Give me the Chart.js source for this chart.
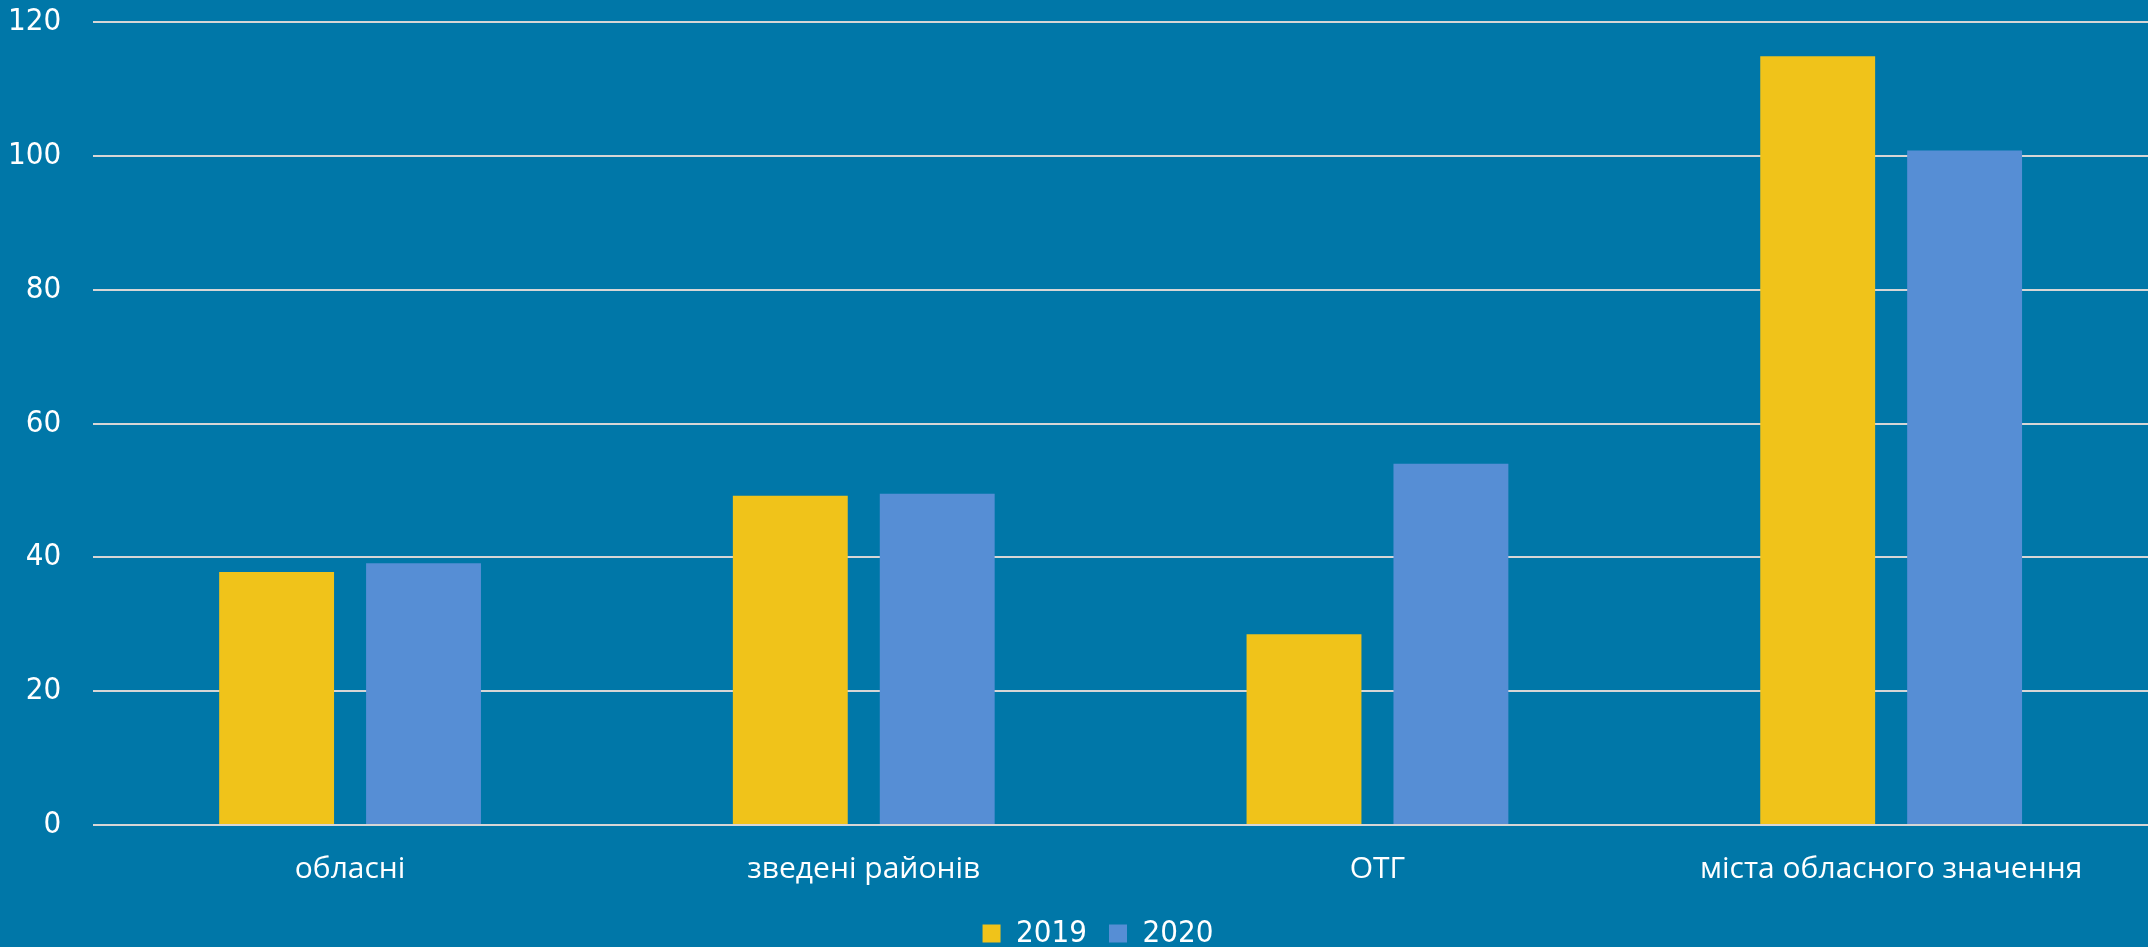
<!DOCTYPE html>
<html lang="uk">
<head>
    <meta charset="UTF-8">
    <title>2019 / 2020</title>
    <script src="https://cdn.jsdelivr.net/npm/chart.js"></script>
    <style>
        html, body { margin: 0; padding: 0; background: #0077A8; }
        #wrap { width: 2148px; height: 947px; }
    </style>
</head>
<body>
<div id="wrap"><canvas id="myChart" width="2148" height="947"></canvas></div>
<script>
    // дані з графіка
    const categories = ['обласні', 'зведені районів', 'ОТГ', 'міста обласного значення'];
    const values2019 = [37.8, 49.2, 28.5, 114.9];
    const values2020 = [39.1, 49.5, 54.0, 100.8];
    const yTicks = [0, 20, 40, 60, 80, 100, 120];

    const digitFont = "'DejaVu Sans Condensed', 'Liberation Sans Narrow', sans-serif";
    const textFont = "'Open Sans', sans-serif";

    // легенда в оригіналі трохи правіше від центру полотна
    const shiftLegend = {
        id: 'shiftLegend',
        afterLayout(chart) {
            chart.legend.left += 36;
            chart.legend.right += 36;
        }
    };

    const ctx = document.getElementById('myChart').getContext('2d');
    new Chart(ctx, {
        type: 'bar',
        data: {
            labels: categories,
            datasets: [
                { label: '2019', data: values2019, backgroundColor: '#F0C31A' },
                { label: '2020', data: values2020, backgroundColor: '#568ED5' }
            ]
        },
        options: {
            responsive: false,
            animation: false,
            categoryPercentage: 0.572,
            barPercentage: 0.782,
            layout: { padding: { top: 22, right: 0, left: -24, bottom: -12 } },
            plugins: {
                legend: {
                    position: 'bottom',
                    labels: {
                        color: '#ffffff',
                        boxWidth: 18,
                        boxHeight: 18,
                        padding: 22,
                        font: { family: digitFont, size: 31 }
                    }
                },
                tooltip: { enabled: false }
            },
            scales: {
                x: {
                    afterFit: axis => { axis.height -= 9; },
                    grid: { display: false },
                    border: { display: false },
                    ticks: {
                        color: '#ffffff',
                        padding: 18,
                        font: { family: textFont, size: 30 }
                    }
                },
                y: {
                    min: 0,
                    max: 120,
                    afterBuildTicks: axis => { axis.ticks = yTicks.map(v => ({ value: v })); },
                    // мітки відсунуті від сітки, але без зайвого відступу зверху/знизу
                    afterFit: axis => { axis.paddingTop = 0; axis.paddingBottom = 0; },
                    grid: { color: '#D6D6D6', lineWidth: 2, drawTicks: false },
                    border: { display: false },
                    ticks: {
                        color: '#ffffff',
                        padding: 32,
                        font: { family: digitFont, size: 31 }
                    }
                }
            }
        },
        plugins: [shiftLegend]
    });
</script>
</body>
</html>
